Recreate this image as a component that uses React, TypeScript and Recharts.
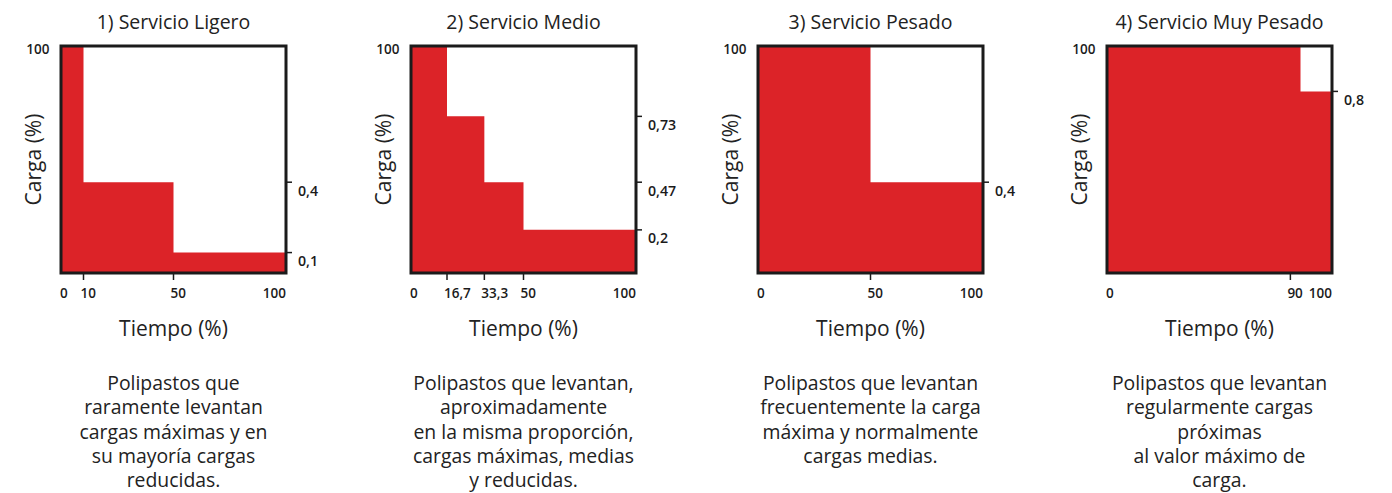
import { ComposedChart, Area, XAxis, YAxis, ReferenceArea } from 'recharts'

const RED = '#dc2328'
const INK = '#1b1b1b'
const FONT = '"Open Sans", "DejaVu Sans", sans-serif'

const titles = ['1) Servicio Ligero', '2) Servicio Medio', '3) Servicio Pesado', '4) Servicio Muy Pesado']

// load profile per class: time (%) where each load level starts, load as fraction of max
const ligeroTiempo = [0, 10, 50, 100]
const ligeroCarga = [1, 0.4, 0.09, 0.09]
const medioTiempo = [0, 16, 32.6, 50, 100]
const medioCarga = [1, 0.69, 0.4, 0.19, 0.19]
const pesadoTiempo = [0, 50, 100]
const pesadoCarga = [1, 0.4, 0.4]
const muyPesadoTiempo = [0, 86, 100]
const muyPesadoCarga = [1, 0.8, 0.8]

// time axis ticks and their printed labels
const ligeroXTicks = [0, 10, 50, 100]
const ligeroXLabels = ['0', '10', '50', '100']
const medioXTicks = [0, 16, 32.6, 50, 100]
const medioXLabels = ['0', '16,7', '33,3', '50', '100']
const pesadoXTicks = [0, 50, 100]
const pesadoXLabels = ['0', '50', '100']
const muyPesadoXTicks = [0, 81.5, 100]
const muyPesadoXLabels = ['0', '90', '100']

// load levels marked on the right edge
const ligeroYTicks = [0.4, 0.09]
const ligeroYLabels = ['0,4', '0,1']
const medioYTicks = [0.69, 0.4, 0.19]
const medioYLabels = ['0,73', '0,47', '0,2']
const pesadoYTicks = [0.4]
const pesadoYLabels = ['0,4']
const muyPesadoYTicks = [0.8]
const muyPesadoYLabels = ['0,8']

const descriptions = [
  ['Polipastos que', 'raramente levantan', 'cargas máximas y en', 'su mayoría cargas', 'reducidas.'],
  ['Polipastos que levantan,', 'aproximadamente', 'en la misma proporción,', 'cargas máximas, medias', 'y reducidas.'],
  ['Polipastos que levantan', 'frecuentemente la carga', 'máxima y normalmente', 'cargas medias.'],
  ['Polipastos que levantan', 'regularmente cargas', 'próximas', 'al valor máximo de', 'carga.'],
]

const panels = [
  { tiempo: ligeroTiempo, carga: ligeroCarga, xTicks: ligeroXTicks, xLabels: ligeroXLabels, yTicks: ligeroYTicks, yLabels: ligeroYLabels },
  { tiempo: medioTiempo, carga: medioCarga, xTicks: medioXTicks, xLabels: medioXLabels, yTicks: medioYTicks, yLabels: medioYLabels },
  { tiempo: pesadoTiempo, carga: pesadoCarga, xTicks: pesadoXTicks, xLabels: pesadoXLabels, yTicks: pesadoYTicks, yLabels: pesadoYLabels },
  { tiempo: muyPesadoTiempo, carga: muyPesadoCarga, xTicks: muyPesadoXTicks, xLabels: muyPesadoXLabels, yTicks: muyPesadoYTicks, yLabels: muyPesadoYLabels },
]

// left edge of each chart on the page (plot area starts 60px in)
const chartLefts = [1, 351, 698, 1047]

const CHART_W = 350
const CHART_H = 345
const tickText = { fontFamily: FONT, fontSize: 13.5, fontWeight: 600, fill: INK }
const axisTitle = { fontFamily: FONT, fontSize: 21, fontWeight: 400, fill: '#222' }

function TimeTick(props: any) {
  const { x, y, payload, ticks, labels } = props
  const v = payload.value
  const label = labels[ticks.indexOf(v)]
  const inner = v > 0 && v < 100
  return (
    <g>
      {inner && <line x1={x} y1={y} x2={x} y2={y + 7} stroke={INK} strokeWidth={1.5} />}
      <text x={v === 0 ? x - 1 : inner ? x - 3 : x} y={y + 24.5} textAnchor={v === 100 ? 'end' : 'start'} {...tickText}>
        {label}
      </text>
    </g>
  )
}

function LoadTick(props: any) {
  const { x, y, payload, ticks, labels } = props
  const label = labels[ticks.indexOf(payload.value)]
  return (
    <g>
      <line x1={x} y1={y} x2={x + 6} y2={y} stroke={INK} strokeWidth={1.5} />
      <text x={x + 12} y={y + 13.6} textAnchor="start" {...tickText} fontSize={14.2}>{label}</text>
    </g>
  )
}

function Panel({ tiempo, carga, xTicks, xLabels, yTicks, yLabels }: any) {
  const data = tiempo.map((t: number, i: number) => ({ tiempo: t, carga: carga[i] }))
  return (
    <ComposedChart width={CHART_W} height={CHART_H} data={data} margin={{ top: 46, right: 0, bottom: 0, left: 0 }}>
      <XAxis
        type="number"
        dataKey="tiempo"
        domain={[0, 100]}
        ticks={xTicks}
        interval={0}
        height={72}
        axisLine={false}
        tickLine={false}
        tickSize={0}
        tickMargin={0}
        tick={(p: any) => <TimeTick {...p} ticks={xTicks} labels={xLabels} />}
        label={{
          content: ({ viewBox }: any) => (
            <text x={viewBox.x + viewBox.width / 2} y={viewBox.y + 62.5} textAnchor="middle" style={axisTitle}>
              Tiempo (%)
            </text>
          ),
        }}
      />
      <YAxis
        yAxisId="l"
        type="number"
        domain={[0, 1]}
        ticks={[1]}
        width={60}
        axisLine={false}
        tickLine={false}
        tickSize={0}
        tickMargin={0}
        tick={(p: any) => (
          <text x={p.x - 11.5} y={p.y + 8} textAnchor="end" {...tickText}>100</text>
        )}
        label={{
          content: ({ viewBox }: any) => {
            const cx = viewBox.x + 32
            const cy = viewBox.y + viewBox.height / 2
            return (
              <text x={cx} y={cy} transform={`rotate(-90 ${cx} ${cy})`} textAnchor="middle" dominantBaseline="central" style={axisTitle}>
                Carga (%)
              </text>
            )
          },
        }}
      />
      <YAxis
        yAxisId="r"
        orientation="right"
        type="number"
        domain={[0, 1]}
        ticks={yTicks}
        interval={0}
        width={65}
        axisLine={false}
        tickLine={false}
        tickSize={0}
        tickMargin={0}
        tick={(p: any) => <LoadTick {...p} ticks={yTicks} labels={yLabels} />}
      />
      <Area
        yAxisId="l"
        type="stepAfter"
        dataKey="carga"
        fill={RED}
        fillOpacity={1}
        stroke="none"
        dot={false}
        activeDot={false}
        isAnimationActive={false}
      />
      <Area
        yAxisId="r"
        type="stepAfter"
        dataKey="carga"
        fill="none"
        stroke="none"
        dot={false}
        activeDot={false}
        isAnimationActive={false}
      />
      <ReferenceArea yAxisId="r" x1={0} x2={100} y1={0} y2={1} fill="none" fillOpacity={0} stroke={INK} strokeWidth={3} />
    </ComposedChart>
  )
}

export default function App() {
  return (
    <div style={{ position: 'absolute', left: 0, top: 0, width: 1392, height: 493, background: '#fff', overflow: 'hidden', fontFamily: FONT, color: INK }}>
      {panels.map((p, i) => {
        const center = chartLefts[i] + 60 + 112.5
        return (
          <div key={i}>
            <div style={{ position: 'absolute', left: center - 160, width: 320, top: 9, lineHeight: '25px', fontSize: 19.5, textAlign: 'center', color: '#222' }}>
              {titles[i]}
            </div>
            <div style={{ position: 'absolute', left: chartLefts[i], top: 0 }}>
              <Panel {...p} />
            </div>
            <div style={{ position: 'absolute', left: center - 160, width: 320, top: 371, lineHeight: '24.3px', fontSize: 19.4, fontWeight: 400, textAlign: 'center', color: '#222' }}>
              {descriptions[i].map((line, j) => (
                <div key={j}>{line}</div>
              ))}
            </div>
          </div>
        )
      })}
    </div>
  )
}
